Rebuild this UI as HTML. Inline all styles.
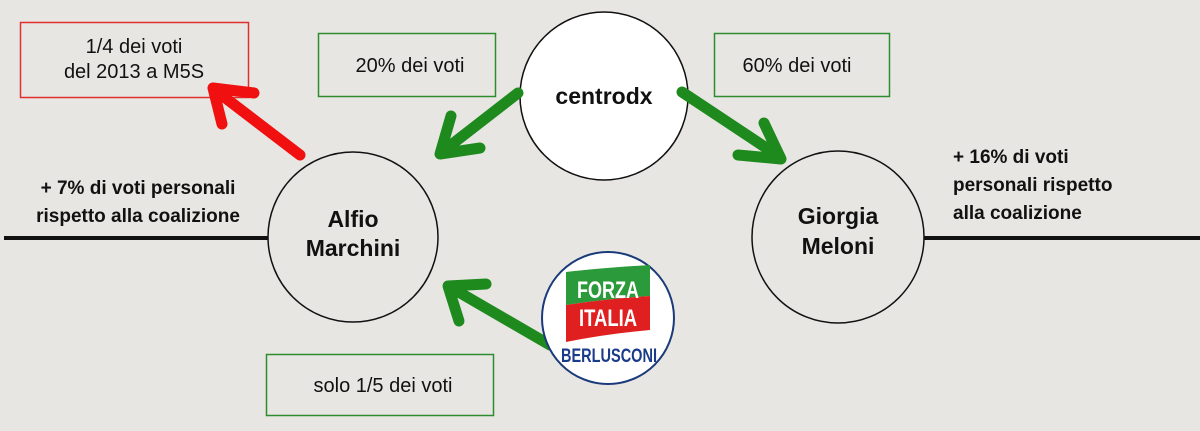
<!DOCTYPE html>
<html><head><meta charset="utf-8"><style>
html,body{margin:0;padding:0;background:#e8e6e3;}
svg{display:block;font-family:"Liberation Sans",Arial,sans-serif;}
</style></head><body>
<svg width="1200" height="431" viewBox="0 0 1200 431" xmlns="http://www.w3.org/2000/svg">
<rect width="1200" height="431" fill="#e8e6e3"/>
<line x1="4" y1="238" x2="268" y2="238" stroke="#111" stroke-width="4"/>
<line x1="924" y1="238" x2="1200" y2="238" stroke="#111" stroke-width="4"/>
<rect x="20.5" y="22.5" width="228" height="75" fill="none" stroke="#e0302e" stroke-width="1.5"/>
<text x="134" y="53" font-size="20" text-anchor="middle" fill="#111">1/4 dei voti</text>
<text x="134" y="78" font-size="20" text-anchor="middle" fill="#111">del 2013 a M5S</text>
<rect x="318.5" y="33.5" width="177" height="63" fill="none" stroke="#2e8b2e" stroke-width="1.5"/>
<text x="410" y="72" font-size="20" text-anchor="middle" fill="#111">20% dei voti</text>
<rect x="714.5" y="33.5" width="175" height="63" fill="none" stroke="#2e8b2e" stroke-width="1.5"/>
<text x="797" y="72" font-size="20" text-anchor="middle" fill="#111">60% dei voti</text>
<rect x="266.5" y="354.5" width="227" height="61" fill="none" stroke="#2e8b2e" stroke-width="1.5"/>
<text x="383" y="392" font-size="20" text-anchor="middle" fill="#111">solo 1/5 dei voti</text>
<circle cx="353" cy="237" r="85" fill="#e8e6e3" stroke="#111" stroke-width="1.5"/>
<circle cx="604" cy="96" r="84" fill="#fff" stroke="#111" stroke-width="1.5"/>
<circle cx="838" cy="237" r="86" fill="#e8e6e3" stroke="#111" stroke-width="1.5"/>
<text x="353" y="227" font-size="23" font-weight="bold" text-anchor="middle" fill="#111">Alfio</text>
<text x="353" y="256" font-size="23" font-weight="bold" text-anchor="middle" fill="#111">Marchini</text>
<text x="604" y="104" font-size="23" font-weight="bold" text-anchor="middle" fill="#111">centrodx</text>
<text x="838" y="224" font-size="23" font-weight="bold" text-anchor="middle" fill="#111">Giorgia</text>
<text x="838" y="254" font-size="23" font-weight="bold" text-anchor="middle" fill="#111">Meloni</text>
<text x="138" y="194" font-size="19" font-weight="bold" text-anchor="middle" fill="#111">+ 7% di voti personali</text>
<text x="138" y="222" font-size="19" font-weight="bold" text-anchor="middle" fill="#111">rispetto alla coalizione</text>
<text x="953" y="163" font-size="19" font-weight="bold" fill="#111">+ 16% di voti</text>
<text x="953" y="191" font-size="19" font-weight="bold" fill="#111">personali rispetto</text>
<text x="953" y="219" font-size="19" font-weight="bold" fill="#111">alla coalizione</text>
<g stroke-linecap="round" stroke-linejoin="round" fill="none" stroke-width="11">
<g stroke="#f01010">
<line x1="300" y1="155" x2="215" y2="90"/>
<polyline points="222,124 213,88 254,93"/>
</g>
<g stroke="#1e8a1e">
<line x1="518" y1="93" x2="442" y2="152"/>
<polyline points="451,116 440,154 480,148"/>
<line x1="682" y1="92" x2="780" y2="157"/>
<polyline points="738,155 781,159 764,123"/>
<line x1="550" y1="345" x2="450" y2="287"/>
<polyline points="459,321 448,286 486,284"/>
</g>
</g>
<circle cx="608" cy="318" r="66" fill="#fff" stroke="#1a3a7a" stroke-width="2"/>
<path d="M566,272 Q600,268 650,265 L650,296 Q605,299 566,305 Z" fill="#2a9a3a"/>
<path d="M566,305 Q605,299 650,296 L650,330 Q605,334 566,342 Z" fill="#e02020"/>
<text x="608" y="298" font-size="24" font-weight="bold" text-anchor="middle" fill="#fff" textLength="62" lengthAdjust="spacingAndGlyphs">FORZA</text>
<text x="608" y="326" font-size="24" font-weight="bold" text-anchor="middle" fill="#fff" textLength="58" lengthAdjust="spacingAndGlyphs">ITALIA</text>
<text x="609" y="362" font-size="19" font-weight="bold" text-anchor="middle" fill="#1a3a8a" textLength="96" lengthAdjust="spacingAndGlyphs">BERLUSCONI</text>
</svg>
</body></html>
